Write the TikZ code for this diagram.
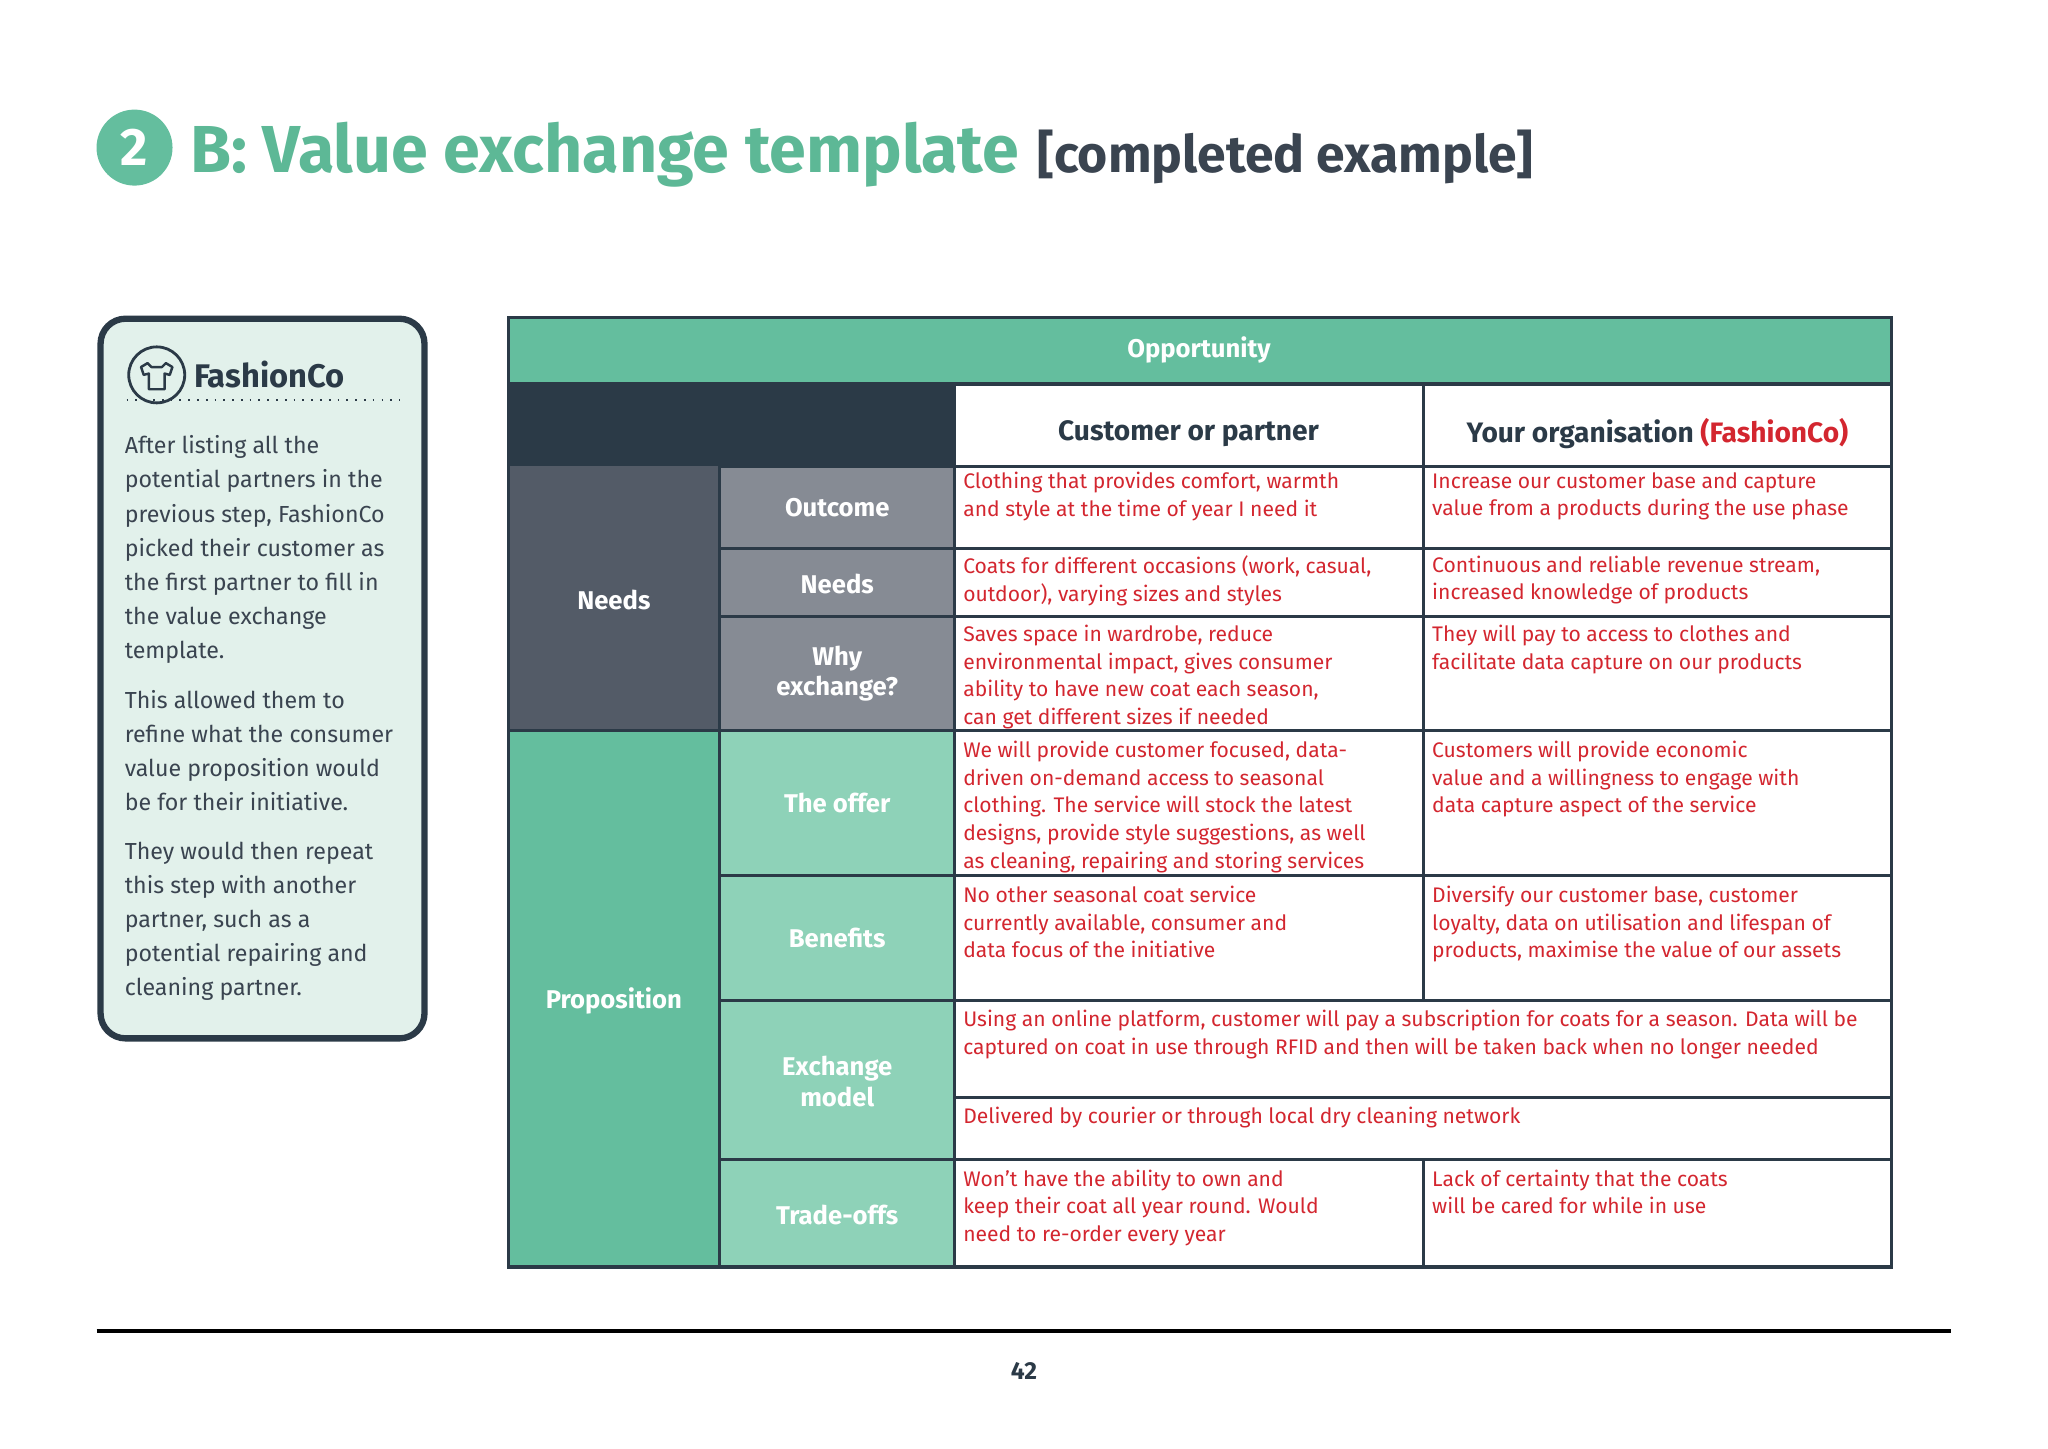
\documentclass[tikz,border=0pt]{standalone}
\usepackage{fontspec}
\setmainfont{Fira Sans}
\definecolor{teal}{HTML}{64BE9E}
\definecolor{tealt}{HTML}{5DB896}
\definecolor{lteal}{HTML}{8ED2B8}
\definecolor{dark}{HTML}{2B3A47}
\definecolor{slate}{HTML}{535B67}
\definecolor{gry}{HTML}{868B94}
\definecolor{mint}{HTML}{E2F1EB}
\definecolor{rd}{HTML}{D3262F}
\definecolor{txt}{HTML}{3A4450}
\begin{document}
\begin{tikzpicture}[x=0.013061cm,y=-0.013061cm,
 cell/.style={anchor=north west,inner sep=0pt,align=left,text=rd,font=\fontsize{6}{7.85}\selectfont},
 lbl/.style={text=white,font=\fontsize{7.3}{8.6}\selectfont\bfseries,align=center},
 para/.style={anchor=north west,inner sep=0pt,align=left,text=txt,font=\fontsize{6.6}{9.72}\selectfont},
 grid/.style={draw=dark,line width=0.9pt}]
\useasboundingbox (0,0) rectangle (1568,1109);
% title
\node[circle,fill=teal,minimum size=0.76cm,inner sep=0pt,text=white,font=\fontsize{15}{15}\selectfont\bfseries] (num) at (103,113) {2};
\node[anchor=base west,inner sep=0pt,text=tealt,font=\fontsize{18.9}{19}\selectfont\bfseries] (ttl) at (145,132) {B: Value exchange template};
\node[anchor=base west,inner sep=0pt,text=txt,font=\fontsize{14.7}{15}\selectfont\bfseries] (sub) at ([xshift=0.17cm]ttl.base east) {[completed example]};
% left box
\draw[fill=mint,draw=dark,line width=1.8pt,rounded corners=0.25cm] (77,244) rectangle (325,795);
\node[circle,draw=dark,line width=0.8pt,minimum size=0.56cm,inner sep=0pt] (ic) at (120,287) {};
\draw[dark,line width=0.7pt,line join=round] (113,278) -- (108,281) -- (110,287) -- (114,286) -- (114,298) -- (126,298) -- (126,286) -- (130,287) -- (132,281) -- (127,278) -- (124,281) -- (116,281) -- cycle;
\node[anchor=west,inner sep=0pt,text=dark,font=\fontsize{9.3}{10}\selectfont\bfseries] (fc) at (148,287) {FashionCo};
\draw[dark,dotted,line width=0.5pt] (97,306) -- (306,306);
\node[para] (p1) at (95,333) {After listing all the\\potential partners in the\\previous step, FashionCo\\picked their customer as\\the first partner to fill in\\the value exchange\\template.};
\node[para] (p2) at (95,528) {This allowed them to\\refine what the consumer\\value proposition would\\be for their initiative.};
\node[para] (p3) at (95,644) {They would then repeat\\this step with another\\partner, such as a\\potential repairing and\\cleaning partner.};
% table fills
\fill[teal] (389,243) rectangle (1448,294);
\fill[dark] (389,294) rectangle (731,357);
\fill[slate] (389,357) rectangle (551,559);
\fill[gry] (551,357) rectangle (731,559);
\fill[teal] (389,559) rectangle (551,970);
\fill[lteal] (551,559) rectangle (731,970);
% grid
\draw[grid] (389,294) -- (1448,294);
\draw[grid] (551,357) -- (1448,357);
\draw[grid] (551,420) -- (1448,420);
\draw[grid] (551,472) -- (1448,472);
\draw[grid] (389,559) -- (1448,559);
\draw[grid] (551,670) -- (1448,670);
\draw[grid] (551,766) -- (1448,766);
\draw[grid] (731,840) -- (1448,840);
\draw[grid] (551,888) -- (1448,888);
\draw[grid] (551,357) -- (551,970);
\draw[grid] (731,294) -- (731,970);
\draw[grid] (1090,294) -- (1090,766);
\draw[grid] (1090,888) -- (1090,970);
\draw[grid] (389,243) rectangle (1448,970);
% labels
\node[lbl] (opp) at (918,268) {Opportunity};
\node[text=dark,font=\fontsize{8}{8}\selectfont\bfseries] (cp) at (910,332) {Customer or partner};
\node[text=dark,font=\fontsize{8}{8}\selectfont\bfseries] (yo) at (1269,332) {Your organisation \textcolor{rd}{(FashionCo)}};
\node[lbl] (nd) at (470,459) {Needs};
\node[lbl] (pr) at (470,766) {Proposition};
\node[lbl] (o1) at (641,389) {Outcome};
\node[lbl] (o2) at (641,447) {Needs};
\node[lbl] (o3) at (641,516) {Why\\exchange?};
\node[lbl] (o4) at (641,615) {The offer};
\node[lbl] (o5) at (641,718) {Benefits};
\node[lbl] (o6) at (641,828) {Exchange\\model};
\node[lbl] (o7) at (641,930) {Trade-offs};
% cells
\node[cell] (c11) at (737,361) {Clothing that provides comfort, warmth\\and style at the time of year I need it};
\node[cell] (c12) at (1096,361) {Increase our customer base and capture\\value from a products during the use phase};
\node[cell] (c21) at (737,425) {Coats for different occasions (work, casual,\\outdoor), varying sizes and styles};
\node[cell] (c22) at (1096,425) {Continuous and reliable revenue stream,\\increased knowledge of products};
\node[cell] (c31) at (737,478) {Saves space in wardrobe, reduce\\environmental impact, gives consumer\\ability to have new coat each season,\\can get different sizes if needed};
\node[cell] (c32) at (1096,478) {They will pay to access to clothes and\\facilitate data capture on our products};
\node[cell] (c41) at (737,567) {We will provide customer focused, data-\\driven on-demand access to seasonal\\clothing. The service will stock the latest\\designs, provide style suggestions, as well\\as cleaning, repairing and storing services};
\node[cell] (c42) at (1096,567) {Customers will provide economic\\value and a willingness to engage with\\data capture aspect of the service};
\node[cell] (c51) at (737,678) {No other seasonal coat service\\currently available, consumer and\\data focus of the initiative};
\node[cell] (c52) at (1096,678) {Diversify our customer base, customer\\loyalty, data on utilisation and lifespan of\\products, maximise the value of our assets};
\node[cell] (c61) at (737,773) {Using an online platform, customer will pay a subscription for coats for a season. Data will be\\captured on coat in use through RFID and then will be taken back when no longer needed};
\node[cell] (c62) at (737,847) {Delivered by courier or through local dry cleaning network};
\node[cell] (c71) at (737,895) {Won't have the ability to own and\\keep their coat all year round. Would\\need to re-order every year};
\node[cell] (c72) at (1096,895) {Lack of certainty that the coats\\will be cared for while in use};
% footer
\draw[black,line width=1pt] (74,1019) -- (1494,1019);
\node[text=dark,font=\fontsize{7}{7}\selectfont\bfseries] (pg) at (784,1050) {42};
\end{tikzpicture}
\end{document}
